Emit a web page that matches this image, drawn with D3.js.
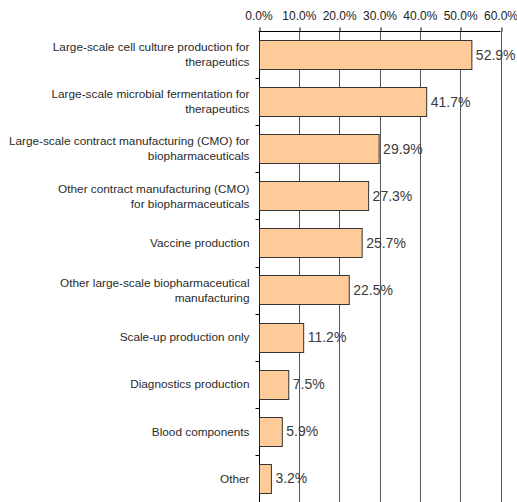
<!DOCTYPE html>
<html>
<head>
<meta charset="utf-8">
<script src="https://cdn.jsdelivr.net/npm/d3@7"></script>
<style>
  html, body { margin: 0; padding: 0; background: #fff; }
  svg { display: block; font-family: "Liberation Sans", Arial, sans-serif; }
</style>
</head>
<body>
<svg id="chart" width="517" height="502"></svg>
<script>
// Facility uses, share of respondents
const categories = [
  ["Large-scale cell culture production for", "therapeutics"],
  ["Large-scale microbial fermentation for", "therapeutics"],
  ["Large-scale contract manufacturing (CMO) for", "biopharmaceuticals"],
  ["Other contract manufacturing (CMO)", "for biopharmaceuticals"],
  ["Vaccine production"],
  ["Other large-scale biopharmaceutical", "manufacturing"],
  ["Scale-up production only"],
  ["Diagnostics production"],
  ["Blood components"],
  ["Other"]
];
const values = [52.9, 41.7, 29.9, 27.3, 25.7, 22.5, 11.2, 7.5, 5.9, 3.2];
const tickValues = [0, 10, 20, 30, 40, 50, 60];

const svg = d3.select("#chart");
const plotLeft = 258.5, plotRight = 500.5, plotTop = 31, plotBottom = 502;

const keys = categories.map((c, i) => i);
const x = d3.scaleLinear().domain([0, 60]).range([plotLeft, plotRight]);
const y = d3.scaleBand().domain(keys).range([plotTop, plotBottom])
  .paddingInner(0.38).paddingOuter(0.19);
const step = y.step();
const slotTop = i => y(i) - step * 0.19;

// vertical gridlines
svg.append("g").selectAll("line")
  .data(tickValues.slice(1))
  .join("line")
  .attr("x1", d => Math.round(x(d)) + 0.5).attr("x2", d => Math.round(x(d)) + 0.5)
  .attr("y1", plotTop).attr("y2", plotBottom)
  .attr("stroke", "#555").attr("stroke-width", 1);

// top axis
const axisTop = d3.axisTop(x)
  .tickValues(tickValues)
  .tickFormat(d => d.toFixed(1) + "%")
  .tickSize(4)
  .tickPadding(8);
const gx = svg.append("g")
  .attr("transform", `translate(0,${plotTop + 0.5})`)
  .call(axisTop);
gx.select(".domain").attr("stroke", "#000").attr("d", `M${plotLeft},0H${plotRight}`);
gx.selectAll(".tick line").attr("stroke", "#000")
  .attr("transform", function(d) { return `translate(${Math.round(x(d)) + 0.5 - x(d)},0)`; });
gx.selectAll(".tick text")
  .attr("fill", "#222")
  .style("font-size", "12px")
  .style("font-family", "Liberation Sans, Arial, sans-serif");

// left axis line with ticks at category boundaries
const ly = Math.round(plotLeft) + 0.5;
svg.append("line")
  .attr("x1", ly).attr("x2", ly).attr("y1", plotTop).attr("y2", plotBottom)
  .attr("stroke", "#000");
svg.append("g").selectAll("line")
  .data(keys.slice(1))
  .join("line")
  .attr("x1", ly - 4).attr("x2", ly)
  .attr("y1", d => Math.round(slotTop(d)) + 0.5)
  .attr("y2", d => Math.round(slotTop(d)) + 0.5)
  .attr("stroke", "#000");

// bars
svg.append("g").selectAll("rect")
  .data(values)
  .join("rect")
  .attr("x", ly)
  .attr("y", (d, i) => Math.round(y(i)) + 0.5)
  .attr("width", d => x(d) - ly)
  .attr("height", Math.round(y.bandwidth()))
  .attr("fill", "#FFCC99")
  .attr("stroke", "#333")
  .attr("stroke-width", 1);

// value labels
svg.append("g").selectAll("text")
  .data(values)
  .join("text")
  .attr("x", d => x(d) + 4)
  .attr("y", (d, i) => y(i) + y.bandwidth() / 2)
  .attr("dy", "0.36em")
  .attr("fill", "#3a3a3a")
  .style("font-size", "14px")
  .text(d => d.toFixed(1) + "%");

// category labels
const labels = svg.append("g").selectAll("text")
  .data(categories)
  .join("text")
  .attr("text-anchor", "end")
  .attr("fill", "#2a2a2a")
  .style("font-size", "11.8px")
  .attr("y", (d, i) => y(i) + y.bandwidth() / 2);
labels.each(function(lines) {
  const t = d3.select(this);
  const lh = 15;
  const y0 = -(lines.length - 1) * lh / 2;
  lines.forEach((s, k) => {
    t.append("tspan")
      .attr("x", 249.5)
      .attr("dy", k === 0 ? (y0 / 11.8 + 0.36) + "em" : lh + "px")
      .text(s);
  });
});
</script>
</body>
</html>
